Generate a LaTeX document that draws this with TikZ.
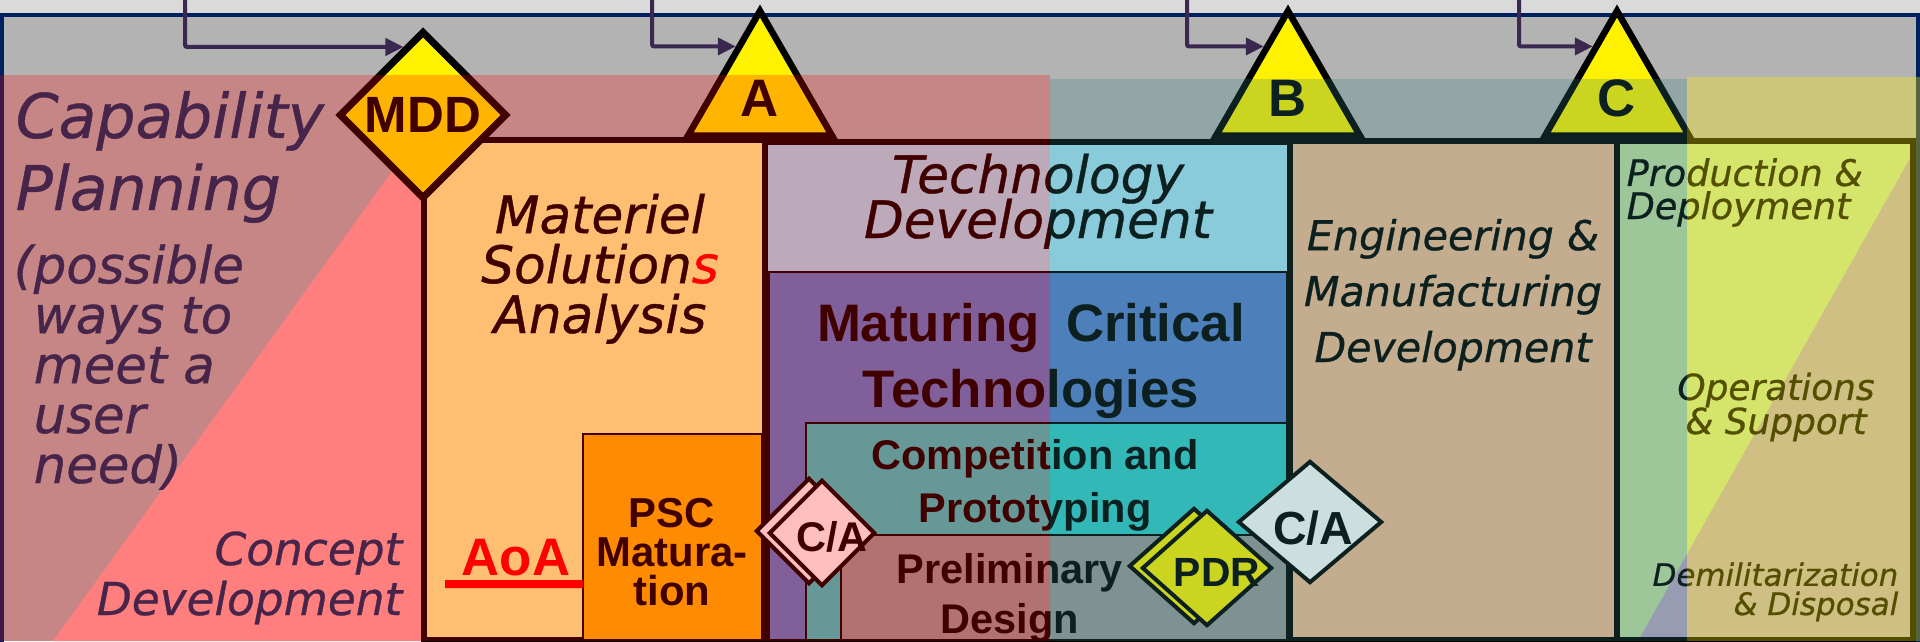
\documentclass[tikz,border=0pt]{standalone}
\usepackage{fontspec}
\usetikzlibrary{shapes.geometric,arrows.meta}
\newfontfamily\phasefont{DejaVu Sans}[ItalicFont=DejaVu Sans Oblique, ItalicFeatures={FakeBold=0.7}]
\newfontfamily\boxfont{Liberation Sans}
\newcommand{\fsz}[2]{\fontsize{#1}{#2}\selectfont\lineskiplimit=-100pt\relax}

\definecolor{topgray}{HTML}{DADADA}
\definecolor{bggray}{HTML}{B3B3B3}
\definecolor{framenavy}{HTML}{002060}
\definecolor{feedpurple}{HTML}{3B2850}
\definecolor{textnavy}{HTML}{0A3264}
\definecolor{conceptpink}{HTML}{FFAAAA}
\definecolor{msayellow}{HTML}{FFFF99}
\definecolor{pscorange}{HTML}{FFBB00}
\definecolor{techblue}{HTML}{A6E4FA}
\definecolor{maturingblue}{HTML}{567FD0}
\definecolor{prototeal}{HTML}{33CCCC}
\definecolor{pdgray}{HTML}{999999}
\definecolor{emdpeach}{HTML}{F4BD94}
\definecolor{pdgreen}{HTML}{C1E0A2}
\definecolor{oslilac}{HTML}{BAA6C3}
\definecolor{washteal}{HTML}{338080}

\tikzset{
	phase/.style 2 args={inner sep=0pt, font=\phasefont\itshape\fsz{#1}{#2}},
	boxlabel/.style 2 args={inner sep=0pt, align=center, font=\boxfont\bfseries\fsz{#1}{#2}},
	thickline/.style={draw=black, line width=0.06cm},
	thinline/.style={draw=black, line width=0.025cm},
	milestone/.style={shape=diamond, draw=black, line width=0.04cm, fill=white, inner sep=0pt},
	gate/.style={shape=regular polygon, regular polygon sides=3, draw=black, line width=0.065cm, fill=yellow, inner sep=0pt, minimum size=1.66cm, text height=0.45cm, text depth=0pt, font=\boxfont\bfseries\fsz{15}{15}},
	feed/.style={draw=feedpurple, line width=0.04cm, rounded corners=0.02cm, -{Triangle[length=0.18cm,width=0.17cm]}},
}

\begin{document}
\begin{tikzpicture}[x=0.01cm, y=-0.01cm]
	\clip (0,0) rectangle (1920,641);
	% backdrop and frame
	\fill[topgray] (0,0) rectangle (1920,15);
	\fill[bggray] (0,15) rectangle (1920,641);
	\draw[framenavy, line width=0.04cm] (1.5,660) -- (1.5,15) -- (1918,15) -- (1918,660);

	% concept wedge
	\fill[conceptpink] (53,641) -- (424,127) -- (424,641) -- cycle;

	% phase boxes
	\filldraw[thickline, fill=msayellow] (424,140) rectangle (765,640);
	\filldraw[thinline, fill=pscorange] (583,434) rectangle (762,640);
	\filldraw[thickline, fill=techblue] (765,142) rectangle (1290,640);
	\filldraw[thinline, fill=maturingblue] (769,272) rectangle (1287,640);
	\filldraw[thinline, fill=prototeal] (806,423) rectangle (1287,640);
	\filldraw[thinline, fill=pdgray] (841,535) rectangle (1287,640);
	\filldraw[thickline, fill=emdpeach] (1290,141) rectangle (1617,640);
	\fill[pdgreen] (1617,141) rectangle (1913,640);
	\fill[oslilac] (1638,641) -- (1913,153) -- (1913,641) -- cycle;
	\draw[thickline] (1617,141) rectangle (1913,640);

	% texts (base = last line)
	\node[phase={17.5}{20.5}, text=textnavy, align=left, anchor=base west] (capplan) at (15,210) {Capability\\Planning};
	\node[phase={14.6}{14.2}, text=textnavy, align=left, anchor=base west] (capneed) at (13,483) {(possible\\\phantom{(}ways to\\\phantom{(}meet a\\\phantom{(}user\\\phantom{(}need)};
	\node[phase={12.9}{14.2}, text=textnavy, align=right, anchor=base east] (concept) at (403,615) {Concept\\Development};
	\node[phase={14.7}{14.2}, align=center, anchor=base] (msa) at (600,333) {Materiel\\Solution\textcolor{red}{s}\\Analysis};
	\node[boxlabel={11.9}{11}, anchor=base] (psc) at (672,605) {PSC\\Matura-\\tion};
	\node[boxlabel={15}{15}, text=red, anchor=base] (aoa) at (516,575) {AoA};
	\draw[red, line width=0.08cm] ([xshift=-0.16cm, yshift=-0.09cm]aoa.base west) -- (583,584);
	\node[phase={14.7}{12.8}, align=center, anchor=base] (techdev) at (1038,238) {Technology\\Development};
	\node[boxlabel={15}{18.5}, anchor=base] (maturing) at (1031,407) {Maturing\hspace{0.5em}Critical\\Technologies};
	\node[boxlabel={11.8}{14.8}, anchor=base] (proto) at (1035,522) {Competition and\\Prototyping};
	\node[boxlabel={11.8}{14.2}, anchor=base] (prelim) at (1010,633) {Preliminary\\Design};
	\node[phase={11.7}{15.9}, align=center, anchor=base] (emd) at (1453,362) {Engineering \&\\Manufacturing\\Development};
	\node[phase={10.4}{9.4}, align=left, anchor=base west] (prod) at (1626,219) {Production \&\\Deployment};
	\node[phase={10.2}{9.7}, align=center, anchor=base] (ops) at (1776,434) {Operations\\\& Support};
	\node[phase={8.8}{8.3}, align=right, anchor=base east] (demil) at (1899,615) {Demilitarization\\\& Disposal};

	% decision points
	\node[milestone, line width=0.07cm, fill=yellow, minimum width=1.68cm, minimum height=1.68cm, font=\boxfont\bfseries\fsz{14.5}{14.5}] (mdd) at (423,115) {MDD};
	\node[milestone, minimum width=1.06cm, minimum height=1.06cm] (caback) at (809,531) {};
	\node[milestone, minimum width=1.06cm, minimum height=1.06cm] (camsa) at (822,533) {};
	\node[boxlabel={11.8}{12}] (camsalabel) at (832,537) {C/A};
	\node[milestone, fill=yellow, minimum width=1.30cm, minimum height=1.16cm] (pdrback) at (1194,566) {};
	\node[milestone, fill=yellow, minimum width=1.30cm, minimum height=1.16cm] (pdr) at (1207,568) {};
	\node[boxlabel={11.6}{12}] (pdrlabel) at (1217,572) {PDR};
	\node[milestone, minimum width=1.44cm, minimum height=1.22cm] (catd) at (1310,522) {};
	\node[boxlabel={13.2}{13}] (catdlabel) at (1313,528) {C/A};

	% gates
	\node[gate] (gatea) at (760,94) {A};
	\node[gate] (gateb) at (1288,94) {B};
	\node[gate] (gatec) at (1617,94) {C};

	% feeds from above
	\coordinate (mddfeed) at (185,-10);
	\coordinate (afeed) at (652,-10);
	\coordinate (bfeed) at (1187,-10);
	\coordinate (cfeed) at (1519,-10);
	\draw[feed] (mddfeed) |- (mdd.106);
	\draw[feed] (afeed) |- (gatea.117);
	\draw[feed] (bfeed) |- (gateb.117);
	\draw[feed] (cfeed) |- (gatec.117);

	% phase washes
	\fill[red, fill opacity=0.25] (0,75) rectangle (1050,641);
	\fill[washteal, fill opacity=0.25] (1050,79) rectangle (1687,641);
	\fill[yellow, fill opacity=0.33] (1687,77) rectangle (1920,641);
\end{tikzpicture}
\end{document}
